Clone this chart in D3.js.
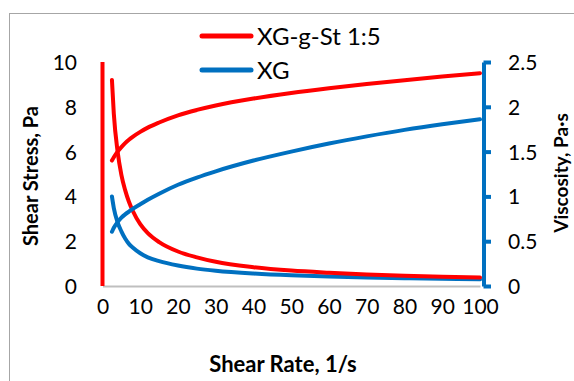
<!DOCTYPE html>
<html>
<head>
<meta charset="utf-8">
<script src="https://cdn.jsdelivr.net/npm/d3@7"></script>
<style>
body{margin:0;background:#fff;}
text{font-family:Lato,"Open Sans",sans-serif;fill:#000;}
</style>
</head>
<body>
<div id="chart"></div>
<script>
// データ
var shearRate = [2.5,3,4,5,6,7,8,10,12,15,20,25,30,40,50,60,70,80,90,100];
var stressXGgSt = [5.6,5.75,6.0,6.2,6.38,6.53,6.66,6.88,7.07,7.3,7.62,7.86,8.06,8.37,8.62,8.83,9.02,9.19,9.35,9.5];
var stressXG = [2.42,2.6,2.85,3.05,3.2,3.32,3.44,3.65,3.85,4.12,4.52,4.84,5.12,5.6,6.0,6.36,6.68,6.97,7.22,7.44];
var viscXGgSt = [2.3,1.92,1.5,1.24,1.07,0.94,0.84,0.69,0.59,0.49,0.385,0.32,0.27,0.21,0.172,0.148,0.129,0.115,0.104,0.095];
var viscXG = [1.0,0.87,0.71,0.61,0.53,0.47,0.43,0.365,0.32,0.277,0.228,0.194,0.17,0.139,0.119,0.106,0.096,0.087,0.08,0.074];
var spikeX = [0,0];
var spikeY = [0,10];
var xTicks = [0,10,20,30,40,50,60,70,80,90,100];
var yLeftTicks = [0,2,4,6,8,10];
var yRightTicks = [0,0.5,1,1.5,2,2.5];
var seriesNames = ["XG-g-St 1:5","XG"];

var RED = "#ff0000", BLUE = "#0070c0";
var width = 574, height = 381;

var svg = d3.select("#chart").append("svg")
	.attr("width", width)
	.attr("height", height);

// 外枠
svg.append("rect")
	.attr("x", 9.5).attr("y", 13.5)
	.attr("width", 600).attr("height", 400)
	.attr("fill", "none")
	.attr("stroke", "#a6a6a6")
	.attr("stroke-width", 1);

var x = d3.scaleLinear().domain([0,100]).range([102.5,480]);
var yL = d3.scaleLinear().domain([0,10]).range([286,62]);
var yR = d3.scaleLinear().domain([0,2.5]).range([286,62]);

// x軸
var gx = svg.append("g")
	.attr("transform", "translate(0,286)")
	.call(d3.axisBottom(x).tickValues(xTicks).tickSize(0).tickPadding(28));
gx.select(".domain").attr("stroke", "#bfbfbf").attr("stroke-width", 2);
gx.selectAll("text").attr("font-size", 21).attr("font-family", "Lato").attr("dy", 0);

// 左y軸
var gl = svg.append("g")
	.attr("transform", "translate(77,0)")
	.call(d3.axisLeft(yL).tickValues(yLeftTicks).tickSize(0).tickPadding(0));
gl.select(".domain").remove();
gl.selectAll("text").attr("font-size", 21).attr("font-family", "Lato").attr("dy", "0.36em");

// 右y軸
var gr = svg.append("g")
	.attr("transform", "translate(483.5,0)")
	.call(d3.axisRight(yR).tickValues(yRightTicks).tickSize(7.5).tickSizeOuter(0).tickPadding(17)
		.tickFormat(function(d){return d;}));
gr.select(".domain").attr("stroke", BLUE).attr("stroke-width", 4);
gr.selectAll(".tick line").attr("stroke", BLUE).attr("stroke-width", 4);
gr.selectAll("text").attr("font-size", 21).attr("font-family", "Lato").attr("dy", "0.36em");

// 軸タイトル
svg.append("text")
	.attr("x", 283).attr("y", 372)
	.attr("text-anchor", "middle")
	.attr("font-weight", "bold").attr("font-size", 22)
	.text("Shear Rate, 1/s");
svg.append("text")
	.attr("transform", "translate(38,176) rotate(-90)")
	.attr("text-anchor", "middle")
	.attr("font-weight", "bold").attr("font-size", 20)
	.text("Shear Stress, Pa");
svg.append("text")
	.attr("transform", "translate(568,173) rotate(-90)")
	.attr("text-anchor", "middle")
	.attr("font-weight", "bold").attr("font-size", 19)
	.text("Viscosity, Pa·s");

// 線
function drawLine(xs, ys, scaleY, color){
	var pts = xs.map(function(v,i){return [v, ys[i]];});
	svg.append("path")
		.datum(pts)
		.attr("fill", "none")
		.attr("stroke", color)
		.attr("stroke-width", 4)
		.attr("stroke-linecap", "round")
		.attr("stroke-linejoin", "round")
		.attr("d", d3.line().curve(d3.curveMonotoneX)
			.x(function(d){return x(d[0]);})
			.y(function(d){return scaleY(d[1]);}));
}

svg.append("line")
	.attr("x1", x(spikeX[0])).attr("x2", x(spikeX[1]))
	.attr("y1", yL(spikeY[0])).attr("y2", yL(spikeY[1]))
	.attr("stroke", RED).attr("stroke-width", 4);

drawLine(shearRate, viscXG, yR, BLUE);
drawLine(shearRate, viscXGgSt, yR, RED);
drawLine(shearRate, stressXG, yL, BLUE);
drawLine(shearRate, stressXGgSt, yL, RED);

// 凡例
var legend = svg.append("g");
[RED, BLUE].forEach(function(c, i){
	var ly = 36 + i*34;
	legend.append("line")
		.attr("x1", 202).attr("x2", 251)
		.attr("y1", ly).attr("y2", ly)
		.attr("stroke", c).attr("stroke-width", 5)
		.attr("stroke-linecap", "round");
	legend.append("text")
		.attr("x", 257).attr("y", ly)
		.attr("dy", "0.36em")
		.attr("font-size", 24)
		.text(seriesNames[i]);
});
</script>
</body>
</html>
